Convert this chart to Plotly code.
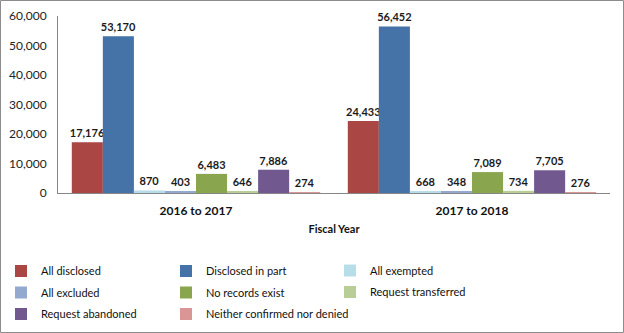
import plotly.graph_objects as go

categories = ["2016 to 2017", "2017 to 2018"]
series_names = ["All disclosed", "Disclosed in part", "All exempted", "All excluded",
                "No records exist", "Request transferred", "Request abandoned",
                "Neither confirmed nor denied"]
all_disclosed = [17176, 24433]
disclosed_in_part = [53170, 56452]
all_exempted = [870, 668]
all_excluded = [403, 348]
no_records_exist = [6483, 7089]
request_transferred = [646, 734]
request_abandoned = [7886, 7705]
neither_confirmed = [274, 276]
series_values = [all_disclosed, disclosed_in_part, all_exempted, all_excluded,
                 no_records_exist, request_transferred, request_abandoned, neither_confirmed]
colors = ["#AA4643", "#4572A7", "#B7DEE8", "#93A9CF", "#89A54E", "#B9CD96", "#71588F", "#D99694"]
legend_ids = ["legend", "legend2", "legend3", "legend", "legend2", "legend3", "legend", "legend2"]

FONT = "Lato"
fig = go.Figure()
for i, (name, vals, col, lg) in enumerate(zip(series_names, series_values, colors, legend_ids)):
    fig.add_trace(go.Bar(
        name=name, x=categories, y=vals, marker=dict(color=col, line=dict(width=0)),
        text=[f"{v:,}" for v in vals], textposition="outside", cliponaxis=False,
        constraintext="none", legend=lg, legendgroup=f"g{i}",
        textfont=dict(family=FONT, size=11, color="#1a1a1a", weight="bold"),
    ))

L, R, T, B = 58, 14, 16, 140
W, H = 624, 333
pw, ph = W - L - R, H - T - B
axis_px = T + ph  # y pixel of x-axis


def py(ypix):
    return (axis_px - ypix) / ph


def px(xpix):
    return (xpix - L) / pw


leg_common = dict(orientation="v", xanchor="left", yanchor="middle",
                  itemwidth=30, tracegroupgap=2.5,
                  font=dict(family=FONT, size=11, color="#111"),
                  bgcolor="rgba(0,0,0,0)")

fig.update_layout(
    width=W, height=H, margin=dict(l=L, r=R, t=T, b=B, autoexpand=False),
    paper_bgcolor="white", plot_bgcolor="white",
    barmode="group", bargap=0.1, bargroupgap=0,
    font=dict(family=FONT, size=12, color="#222"),
    xaxis=dict(showline=True, linecolor="#868686", linewidth=1, ticks="", ticklabelstandoff=7,
               tickfont=dict(family=FONT, size=12, color="#111", weight="bold"),
               title=dict(text="Fiscal Year", font=dict(family=FONT, size=11, color="#111", weight="bold"), standoff=7)),
    yaxis=dict(range=[0, 60000], dtick=10000, tickformat=",", showgrid=False, zeroline=False,
               showline=True, linecolor="#868686", linewidth=1, ticks="", ticklabelstandoff=8,
               tickfont=dict(family=FONT, size=12, color="#222")),
    showlegend=True,
    legend=dict(leg_common, x=px(1), y=py(292.5)),
    legend2=dict(leg_common, x=px(166), y=py(292.5)),
    legend3=dict(leg_common, x=px(330), y=py(281.5)),
    shapes=[dict(type="rect", xref="paper", yref="paper",
                 x0=(0.5 - L) / pw, x1=(W - 0.5 - L) / pw,
                 y0=-(B - 0.5) / ph, y1=1 + (T - 0.5) / ph,
                 line=dict(color="#8c8c8c", width=1), fillcolor="rgba(0,0,0,0)", layer="below")],
)
fig.write_html("out.html")
